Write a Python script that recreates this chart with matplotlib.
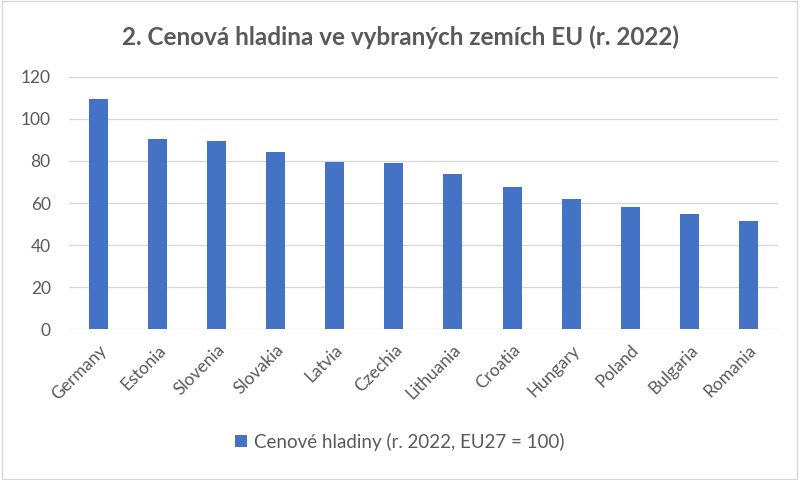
import matplotlib
matplotlib.use('Agg')
import matplotlib.pyplot as plt
from matplotlib.patches import Rectangle

# Data
zeme = ['Germany', 'Estonia', 'Slovenia', 'Slovakia', 'Latvia', 'Czechia',
        'Lithuania', 'Croatia', 'Hungary', 'Poland', 'Bulgaria', 'Romania']
hladiny = [109.3, 90.6, 89.4, 84.2, 79.4, 78.8, 73.6, 67.6, 61.9, 58.1, 54.6, 51.6]
y_ticks = [0, 20, 40, 60, 80, 100, 120]

plt.rcParams['font.family'] = ['Lato', 'DejaVu Sans']
SEDA = '#595959'
MODRA = '#4472C4'

fig = plt.figure(figsize=(8, 4.8), dpi=100, facecolor='white')
ax = fig.add_axes([0.086, 0.314, 0.8865, 0.526])

x = range(len(zeme))
ax.bar(x, hladiny, width=0.32, color=MODRA, zorder=3,
       label='Cenové hladiny (r. 2022, EU27 = 100)')

ax.set_ylim(0, 120)
ax.set_xlim(-0.5, len(zeme) - 0.5)
ax.set_yticks(y_ticks)
ax.set_yticklabels([str(v) for v in y_ticks], fontsize=12.5, color=SEDA)
ax.set_xticks(list(x))
ax.set_xticklabels(zeme, rotation=45, ha='right', rotation_mode='anchor',
                   fontsize=12.5, color=SEDA)
ax.tick_params(axis='y', length=0, pad=13)
ax.tick_params(axis='x', length=0, pad=9)
ax.yaxis.grid(True, color='#D9D9D9', linewidth=1, zorder=0)
for s in ax.spines.values():
    s.set_visible(False)

fig.text(0.5, 0.922, '2. Cenová hladina ve vybraných zemích EU (r. 2022)',
         ha='center', va='center', fontsize=17.5, fontweight='bold', color=SEDA)

fig.legend(loc='center', bbox_to_anchor=(0.5, 0.08), frameon=False,
           fontsize=13.5, labelcolor=SEDA, handlelength=0.6, handleheight=0.6,
           handletextpad=0.4)

fig.patches.append(Rectangle((0.002, 0.003), 0.994, 0.994, transform=fig.transFigure,
                             fill=False, edgecolor='#D9D9D9', linewidth=1))

plt.savefig('out.png', dpi=100, facecolor=fig.get_facecolor())
plt.close()
